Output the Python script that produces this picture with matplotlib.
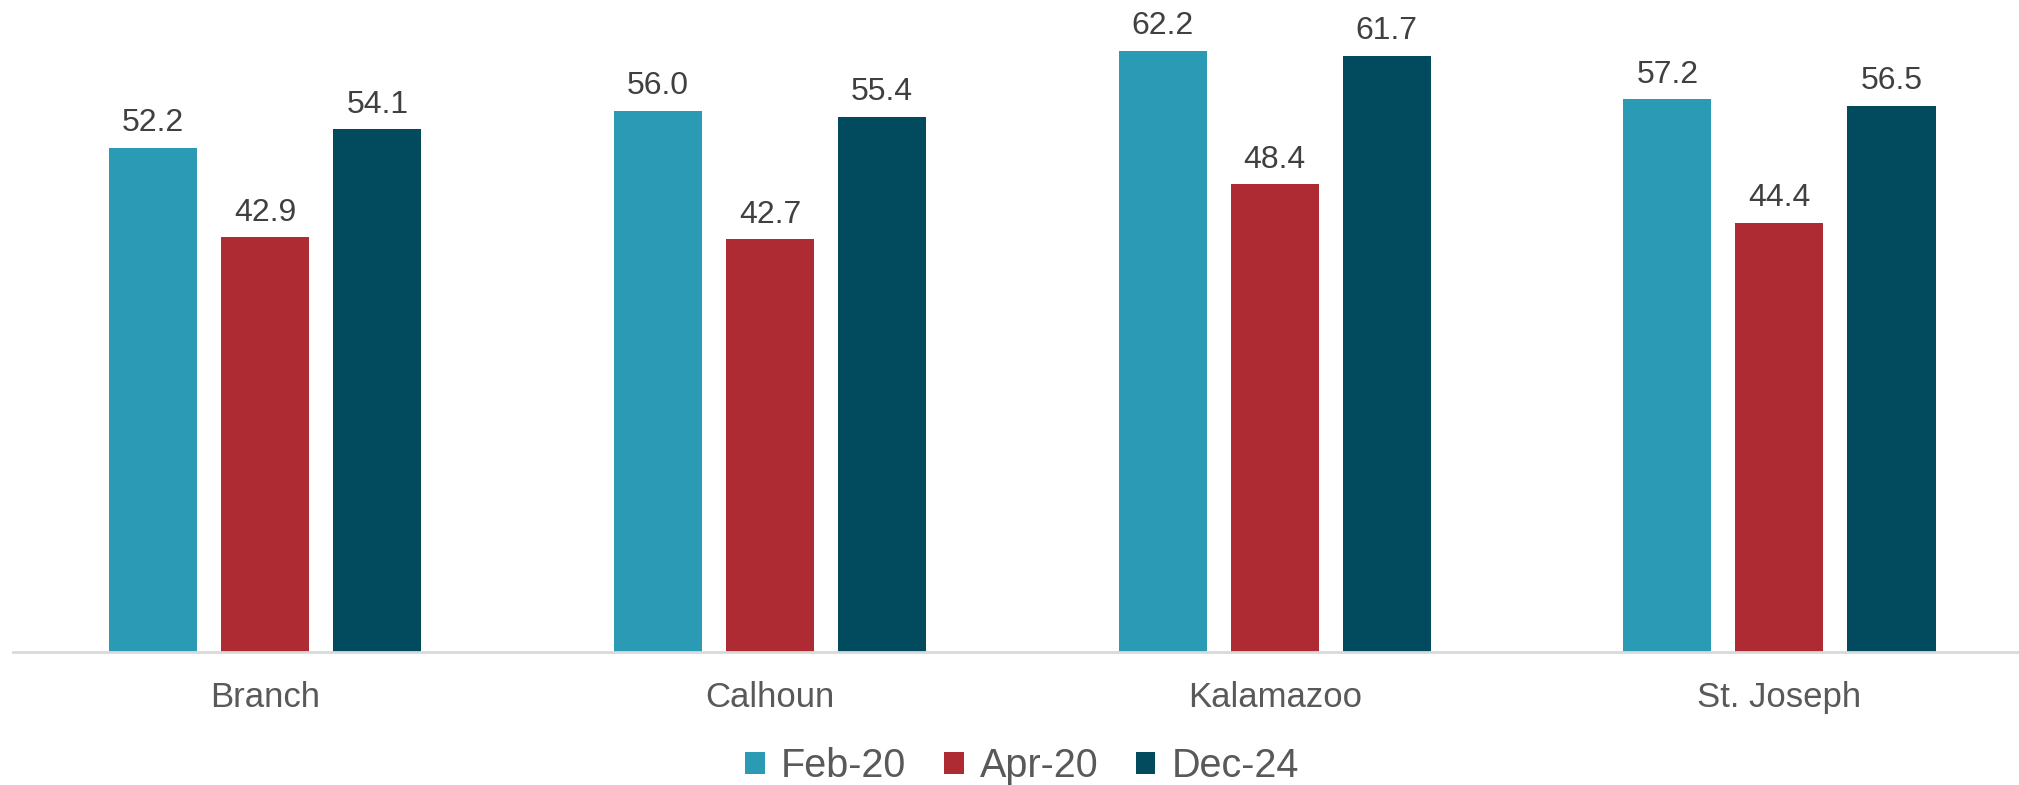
import numpy as np
import matplotlib
matplotlib.use('Agg')
import matplotlib.pyplot as plt

counties = ['Branch', 'Calhoun', 'Kalamazoo', 'St. Joseph']
series_names = ['Feb-20', 'Apr-20', 'Dec-24']
feb20 = [52.2, 56.0, 62.2, 57.2]
apr20 = [42.9, 42.7, 48.4, 44.4]
dec24 = [54.1, 55.4, 61.7, 56.5]
colors = ['#2B9AB5', '#AF2B33', '#024B5E']

plt.rcParams['font.family'] = ['Liberation Sans', 'DejaVu Sans']

fig = plt.figure(figsize=(20.19, 7.85), dpi=100)
# axes runs past the right edge of the picture, as in the original
ax = fig.add_axes([13 / 2019, 133.5 / 785, 2006 / 2019, 651.5 / 785])

x = np.arange(len(counties))
width = 0.1744
step = 0.222

for i, (name, vals) in enumerate(zip(series_names, [feb20, apr20, dec24])):
    bars = ax.bar(x + (i - 1) * step, vals, width, color=colors[i], label=name)
    ax.bar_label(bars, fmt='%.1f', padding=7, fontsize=23, color='#404040')

ax.set_xlim(-0.5, -0.5 + 2006 / 504.7)
ax.set_ylim(0, 67.5)
ax.set_xticks(x)
ax.set_xticklabels(counties, fontsize=25, color='#595959')
ax.tick_params(axis='x', length=0, pad=21)
ax.set_yticks([])
for side in ['top', 'right', 'left']:
    ax.spines[side].set_visible(False)
ax.spines['bottom'].set_color('#D9D9D9')
ax.spines['bottom'].set_linewidth(2)

fig.legend(loc='center', bbox_to_anchor=(1022 / 2019, 19 / 785), ncol=3, frameon=False,
           fontsize=28.5, labelcolor='#595959', handlelength=0.5, handleheight=0.5,
           handletextpad=0.4, columnspacing=0.95)

plt.savefig('out.png', dpi=100)
